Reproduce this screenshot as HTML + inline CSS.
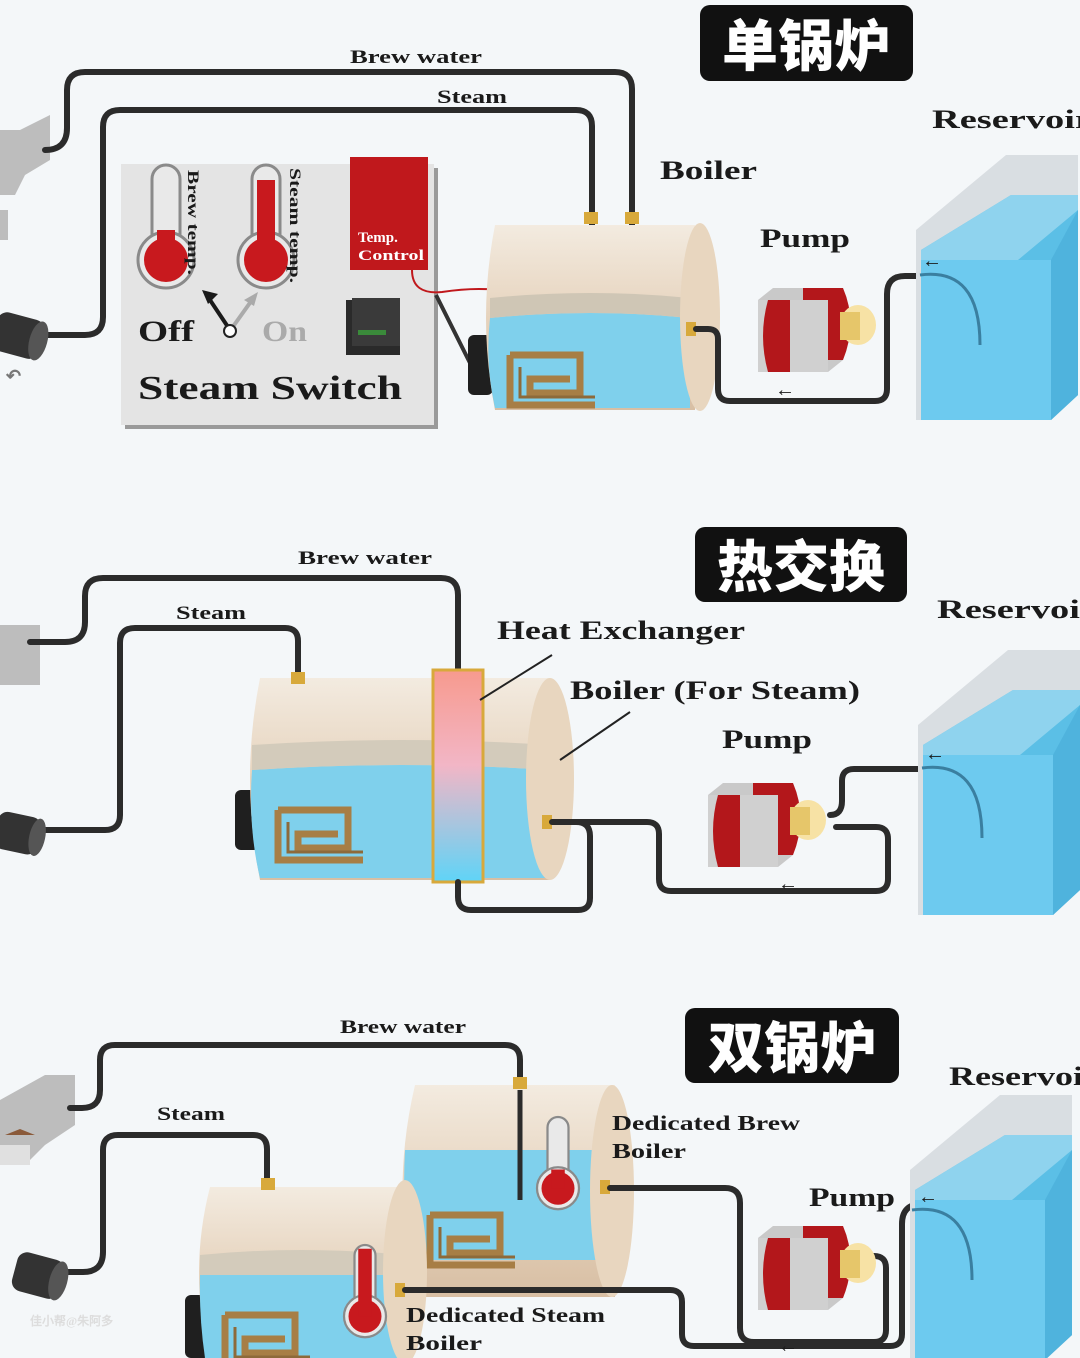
<!DOCTYPE html>
<html><head><meta charset="utf-8"><style>
html,body{margin:0;padding:0;background:#f4f7f9;}
svg{display:block}
text{font-family:"Liberation Serif",serif;font-weight:bold;fill:#1a1a1a}
.cn{font-family:"Noto Sans CJK SC","WenQuanYi Zen Hei",sans-serif;font-weight:900;fill:#fff}
.p{fill:none;stroke:#2b2b2b;stroke-width:6;stroke-linejoin:round;stroke-linecap:round}
</style></head><body>
<svg width="1080" height="1358" viewBox="0 0 1080 1358" xmlns="http://www.w3.org/2000/svg">
<defs>
<linearGradient id="body" x1="0" y1="0" x2="0" y2="1"><stop offset="0" stop-color="#f3ebe0"/><stop offset="0.5" stop-color="#e6d3bd"/><stop offset="1" stop-color="#d8bfa4"/></linearGradient>
<linearGradient id="hx" x1="0" y1="0" x2="0" y2="1"><stop offset="0" stop-color="#f79a8e"/><stop offset="0.45" stop-color="#f2b6c6"/><stop offset="1" stop-color="#5fd4f7"/></linearGradient>
<g id="coil" fill="none" stroke="#a77e45" stroke-width="7">
<path d="M0 0 h70 v38 h-50 v-14 h40 M0 0 v50 h85"/><path d="M10 12 v30 h75" stroke="#8d6a3a" stroke-width="3"/>
</g>
<g id="pump">
<path d="M0 10 l15 -12 h70 v72 l-15 12 h-70z" fill="#c9c9c9"/>
<path d="M45 -2 h40 q15 35 0 72 h-40 z" fill="#b3171b"/>
<path d="M0 10 h70 v72 h-70z" fill="#d0d0d0"/>
<path d="M10 10 q-10 36 0 72 h22 v-72z" fill="#b3171b"/>
<ellipse cx="100" cy="35" rx="18" ry="20" fill="#f7e2a5"/>
<rect x="82" y="22" width="20" height="28" fill="#e6c66a"/>
</g>
<g id="res">
<path d="M0 75 l90 -75 h72 v240 l-27 25 h-135z" fill="#d9dee2"/>
<path d="M5 95 l90 -55 h67 v200 l-27 25 h-130z" fill="#5bbfe6"/>
<path d="M5 95 l90 -55 h67 v15 l-60 50 h-97z" fill="#8fd3ee"/>
<rect x="5" y="105" width="130" height="160" fill="#6dcaef"/>
<path d="M135 105 l27 -50 v185 l-27 25z" fill="#4fb3dd"/>
</g>
<g id="therm">
<rect x="-14" y="0" width="28" height="95" rx="14" fill="#e9e9e9" stroke="#8a8a8a" stroke-width="3"/>
<circle cx="0" cy="95" r="28" fill="#e9e9e9" stroke="#8a8a8a" stroke-width="3"/>
<circle cx="0" cy="95" r="22" fill="#c8191e"/>
</g>
</defs>

<!-- ============ SECTION 1 ============ -->
<rect x="700" y="5" width="213" height="76" rx="10" fill="#111"/>
<text x="806" y="66" class="cn" font-size="56" text-anchor="middle">单锅炉</text>

<path d="M0 130 h20 l30 -15 v45 l-25 15 l-10 20 h-15z" fill="#bdbdbd"/>
<rect x="0" y="210" width="8" height="30" fill="#bdbdbd"/>
<path class="p" d="M45 150 q22 0 22 -22 v-38 q0 -18 18 -18 h530 q17 0 17 17 v301"/>
<path class="p" d="M45 335 h40 q18 0 18 -18 v-190 q0 -17 17 -17 h456 q16 0 16 16 v138"/>
<g transform="translate(0,310) rotate(15)"><rect x="0" y="0" width="48" height="40" rx="10" fill="#333"/><ellipse cx="45" cy="20" rx="9" ry="20" fill="#555"/></g>
<text x="6" y="382" font-size="18" style="fill:#777">↶</text>

<rect x="125" y="168" width="313" height="261" fill="#9a9a9a"/>
<rect x="121" y="164" width="313" height="261" fill="#e4e4e4"/>
<g transform="translate(166,165)"><use href="#therm"/></g>
<rect x="157" y="230" width="18" height="30" fill="#c8191e"/>
<g transform="translate(266,165)"><use href="#therm"/></g>
<rect x="257" y="180" width="18" height="80" fill="#c8191e"/>
<text transform="translate(188,170) rotate(90)" font-size="16" textLength="105" lengthAdjust="spacingAndGlyphs">Brew temp.</text>
<text transform="translate(290,168) rotate(90)" font-size="16" textLength="115" lengthAdjust="spacingAndGlyphs">Steam temp.</text>
<rect x="350" y="157" width="78" height="113" fill="#c0181c"/>
<text x="358" y="242" font-size="15" style="fill:#fff">Temp.</text>
<text x="358" y="260" font-size="15" textLength="66" lengthAdjust="spacingAndGlyphs" style="fill:#fff">Control</text>
<path d="M412 270 q0 25 30 22 q40 -6 67 0" fill="none" stroke="#c0181c" stroke-width="2"/>
<circle cx="510" cy="293" r="5" fill="#c0181c"/>
<text x="138" y="341" font-size="30" textLength="56" lengthAdjust="spacingAndGlyphs">Off</text>
<text x="262" y="341" font-size="30" textLength="45" lengthAdjust="spacingAndGlyphs" style="fill:#aaa">On</text>
<path d="M230 330 l-20 -30" stroke="#1a1a1a" stroke-width="4"/><path d="M202 290 l16 4 l-10 10z" fill="#1a1a1a"/>
<path d="M232 328 l20 -28" stroke="#aaa" stroke-width="4"/><path d="M258 292 l-4 14 l-10 -6z" fill="#aaa"/>
<circle cx="230" cy="331" r="6" fill="#fff" stroke="#222" stroke-width="2"/>
<path d="M346 300 h54 v55 h-54z" fill="#2a2a2a"/><rect x="352" y="298" width="48" height="48" fill="#3a3a3a"/>
<rect x="358" y="330" width="28" height="5" fill="#3a8a3a"/>
<text x="138" y="399" font-size="34" textLength="264" lengthAdjust="spacingAndGlyphs">Steam Switch</text>
<path d="M436 295 l40 80" stroke="#333" stroke-width="4"/>

<rect x="468" y="335" width="25" height="60" rx="6" fill="#1f1f1f"/>
<path d="M495 225 h200 v185 h-200 q-18 -92 0 -185z" fill="url(#body)"/>
<path d="M490 318 q100 -10 200 0 v90 h-195 q-10 -45 -5 -90z" fill="#7fd0ec"/>
<path d="M490 298 q100 -10 200 0 v20 q-100 -10 -200 0z" fill="#cfc6b5"/>
<ellipse cx="700" cy="317" rx="20" ry="94" fill="#e8d6bf"/>
<use href="#coil" transform="translate(510,355)"/>
<rect x="584" y="212" width="14" height="12" fill="#d8a93b"/><rect x="625" y="212" width="14" height="12" fill="#d8a93b"/>
<rect x="686" y="322" width="10" height="14" fill="#d8a93b"/>
<path class="p" d="M696 329 h12 q10 0 10 10 v50 q0 12 12 12 h145 q12 0 12 -12 v-95 q0 -18 18 -18 h15"/>
<text x="775" y="396" font-size="20">←</text>
<use href="#pump" transform="translate(758,290)"/>
<use href="#res" transform="translate(916,155)"/>
<path d="M920 275 q60 -8 60 70" stroke="#3a7fa0" stroke-width="3" fill="none"/>
<text x="922" y="267" font-size="20">←</text>

<text x="350" y="63" font-size="19" textLength="132" lengthAdjust="spacingAndGlyphs">Brew water</text>
<text x="437" y="103" font-size="19" textLength="70" lengthAdjust="spacingAndGlyphs">Steam</text>
<text x="932" y="128" font-size="26" textLength="160" lengthAdjust="spacingAndGlyphs">Reservoir</text>
<text x="660" y="179" font-size="26" textLength="97" lengthAdjust="spacingAndGlyphs">Boiler</text>
<text x="760" y="247" font-size="26" textLength="90" lengthAdjust="spacingAndGlyphs">Pump</text>

<!-- ============ SECTION 2 ============ -->
<rect x="695" y="527" width="212" height="75" rx="10" fill="#111"/>
<text x="801" y="587" class="cn" font-size="56" text-anchor="middle">热交换</text>
<path d="M0 625 h40 v60 h-40z" fill="#bdbdbd"/>
<path class="p" d="M30 642 h35 q20 0 20 -20 v-26 q0 -18 18 -18 h338 q17 0 17 17 v75"/>
<path class="p" d="M40 830 h65 q15 0 15 -15 v-172 q0 -15 15 -15 h150 q13 0 13 13 v40"/>
<g transform="translate(0,810) rotate(12)"><rect x="0" y="0" width="44" height="38" rx="10" fill="#333"/><ellipse cx="42" cy="19" rx="8" ry="19" fill="#555"/></g>
<rect x="235" y="790" width="25" height="60" rx="6" fill="#1f1f1f"/>
<path d="M260 678 h290 v202 h-290 q-20 -101 0 -202z" fill="url(#body)"/>
<path d="M252 770 q150 -10 298 0 v108 h-290 q-12 -50 -8 -108z" fill="#7fd0ec"/>
<path d="M252 745 q150 -10 298 0 v25 q-150 -10 -298 0z" fill="#d3cbbb"/>
<ellipse cx="550" cy="779" rx="24" ry="101" fill="#e8d6bf"/>
<use href="#coil" transform="translate(278,810)"/>
<rect x="291" y="672" width="14" height="12" fill="#d8a93b"/>
<rect x="433" y="670" width="50" height="212" fill="url(#hx)" stroke="#d8a93b" stroke-width="3"/>
<path d="M480 700 l72 -45 M560 760 l70 -48" stroke="#222" stroke-width="2"/>
<rect x="542" y="815" width="10" height="14" fill="#d8a93b"/>
<path class="p" d="M458 882 v15 q0 13 13 13 h107 q12 0 12 -12 v-62 q0 -14 -14 -14 h-24 M552 822 h95 q12 0 12 12 v45 q0 12 12 12 h205 q12 0 12 -12 v-40 q0 -12 -12 -12 h-40"/>
<path class="p" d="M830 815 q12 0 12 -14 v-20 q0 -12 12 -12 h66"/>
<text x="778" y="890" font-size="20">←</text>
<use href="#pump" transform="translate(708,785)"/>
<use href="#res" transform="translate(918,650)"/>
<path d="M922 768 q60 -8 60 70" stroke="#3a7fa0" stroke-width="3" fill="none"/>
<text x="925" y="760" font-size="20">←</text>
<text x="298" y="564" font-size="19" textLength="134" lengthAdjust="spacingAndGlyphs">Brew water</text>
<text x="176" y="619" font-size="19" textLength="70" lengthAdjust="spacingAndGlyphs">Steam</text>
<text x="497" y="639" font-size="26" textLength="248" lengthAdjust="spacingAndGlyphs">Heat Exchanger</text>
<text x="570" y="699" font-size="26" textLength="290" lengthAdjust="spacingAndGlyphs">Boiler (For Steam)</text>
<text x="722" y="748" font-size="26" textLength="90" lengthAdjust="spacingAndGlyphs">Pump</text>
<text x="937" y="618" font-size="26" textLength="160" lengthAdjust="spacingAndGlyphs">Reservoir</text>

<!-- ============ SECTION 3 ============ -->
<rect x="685" y="1008" width="214" height="75" rx="10" fill="#111"/>
<text x="792" y="1068" class="cn" font-size="56" text-anchor="middle">双锅炉</text>
<path d="M0 1100 l45 -25 h30 v50 l-30 20 l-15 15 h-30z" fill="#bdbdbd"/>
<path d="M0 1145 h30 v20 h-30z" fill="#e0e0e0"/><path d="M5 1135 l15 -6 l15 6z" fill="#8a5a3a"/>
<path class="p" d="M70 1108 h12 q18 0 18 -18 v-30 q0 -15 15 -15 h390 q15 0 15 15 v140"/>
<path class="p" d="M58 1272 h25 q20 0 20 -20 v-102 q0 -15 15 -15 h135 q14 0 14 14 v70"/>
<g transform="translate(20,1250) rotate(15)"><rect x="0" y="0" width="48" height="40" rx="10" fill="#333"/><ellipse cx="45" cy="20" rx="9" ry="20" fill="#555"/></g>
<text x="30" y="1325" font-size="12" style="fill:#ddd">佳小帮@朱阿多</text>
<path d="M415 1085 h200 v212 h-200 q-25 -106 0 -212z" fill="url(#body)"/>
<path d="M405 1150 h210 v110 h-205 q-8 -55 -5 -110z" fill="#7fd0ec"/>
<ellipse cx="612" cy="1191" rx="22" ry="106" fill="#e8d6bf"/>
<use href="#coil" transform="translate(430,1215)"/>
<path d="M520 1090 v110" stroke="#2b2b2b" stroke-width="5"/>
<rect x="513" y="1077" width="14" height="12" fill="#d8a93b"/>
<g transform="translate(558,1117) scale(.75)"><use href="#therm"/><rect x="-9" y="70" width="18" height="25" fill="#c8191e"/></g>
<rect x="600" y="1180" width="10" height="14" fill="#d8a93b"/>
<rect x="185" y="1295" width="25" height="63" rx="6" fill="#1f1f1f"/>
<path d="M210 1187 h195 v171 h-195 q-22 -85 0 -171z" fill="url(#body)"/>
<path d="M200 1275 h205 v83 h-200 q-6 -40 -5 -83z" fill="#7fd0ec"/>
<path d="M200 1255 q100 -10 205 0 v20 h-205z" fill="#d3cbbb"/>
<ellipse cx="405" cy="1272" rx="22" ry="92" fill="#e8d6bf"/>
<use href="#coil" transform="translate(225,1315)"/>
<rect x="261" y="1178" width="14" height="12" fill="#d8a93b"/>
<g transform="translate(365,1245) scale(.75)"><use href="#therm"/><rect x="-9" y="5" width="18" height="90" fill="#c8191e"/></g>
<rect x="395" y="1283" width="10" height="14" fill="#d8a93b"/>
<path class="p" d="M610 1188 h115 q15 0 15 15 v125 q0 14 14 14 h120 q12 0 12 -12 v-62 q0 -12 -12 -12 h-30"/>
<path class="p" d="M405 1290 h265 q12 0 12 12 v32 q0 12 12 12 h196 q12 0 12 -12 v-110 q0 -20 20 -20 h12"/>
<text x="778" y="1352" font-size="20">←</text>
<use href="#pump" transform="translate(758,1228)"/>
<use href="#res" transform="translate(910,1095)"/>
<path d="M912 1210 q60 -8 60 70" stroke="#3a7fa0" stroke-width="3" fill="none"/>
<text x="918" y="1203" font-size="20">←</text>
<text x="340" y="1033" font-size="19" textLength="126" lengthAdjust="spacingAndGlyphs">Brew water</text>
<text x="157" y="1120" font-size="19" textLength="68" lengthAdjust="spacingAndGlyphs">Steam</text>
<text x="612" y="1130" font-size="21" textLength="188" lengthAdjust="spacingAndGlyphs">Dedicated Brew</text>
<text x="612" y="1158" font-size="21" textLength="74" lengthAdjust="spacingAndGlyphs">Boiler</text>
<text x="406" y="1322" font-size="21" textLength="199" lengthAdjust="spacingAndGlyphs">Dedicated Steam</text>
<text x="406" y="1350" font-size="21" textLength="76" lengthAdjust="spacingAndGlyphs">Boiler</text>
<text x="809" y="1206" font-size="26" textLength="86" lengthAdjust="spacingAndGlyphs">Pump</text>
<text x="949" y="1085" font-size="26" textLength="150" lengthAdjust="spacingAndGlyphs">Reservoir</text>
</svg>
</body></html>
